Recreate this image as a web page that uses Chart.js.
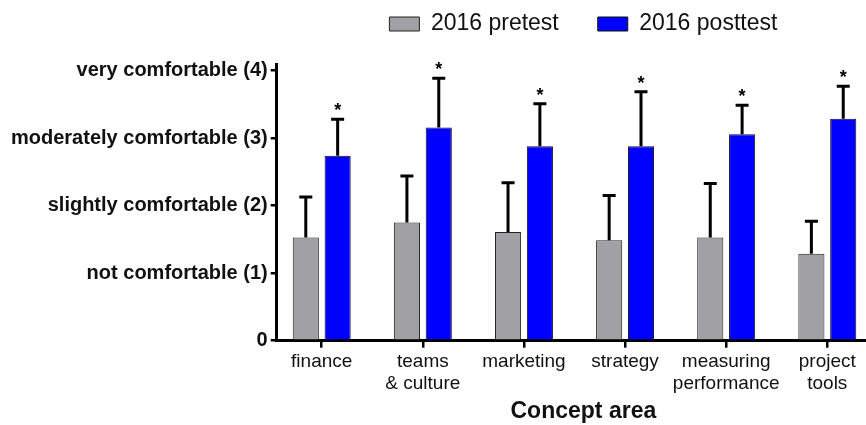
<!DOCTYPE html>
<html>
<head>
<meta charset="utf-8">
<script src="https://cdn.jsdelivr.net/npm/chart.js"></script>
<style>
  body { margin: 0; background: #fff; overflow: hidden; }
  /* the figure is cut off on the right, so the canvas is a bit wider than the window */
  #clip { width: 866px; height: 425px; overflow: hidden; }
  #wrap { width: 890px; height: 425px; }
</style>
</head>
<body>
<div id="clip"><div id="wrap"><canvas id="canvas_bar"></canvas></div></div>
<script>
// concept areas (x axis)
const categories = [['finance'], ['teams', '& culture'], ['marketing'], ['strategy'], ['measuring', 'performance'], ['project', 'tools']]
// y axis tick texts, index = value
const yLabels = ['0', 'not comfortable (1)', 'slightly comfortable (2)', 'moderately comfortable (3)', 'very comfortable (4)']

const seriesNames = ['2016 pretest', '2016 posttest']
const pretest = [1.53, 1.75, 1.61, 1.49, 1.53, 1.29]
const pretest_sd = [0.60, 0.69, 0.73, 0.66, 0.80, 0.48]
const posttest = [2.74, 3.16, 2.88, 2.88, 3.06, 3.29]
const posttest_sd = [0.54, 0.73, 0.63, 0.81, 0.43, 0.48]
const posttest_sig = [true, true, true, true, true, true]

Chart.defaults.font.family = "'Liberation Sans', Arial, sans-serif"
Chart.defaults.color = '#111'

// upper error bars + significance stars, positioned through the y scale
const errorBars = {
  id: 'errorBars',
  afterDatasetsDraw(chart) {
    const ctx = chart.ctx
    const yScale = chart.scales.y
    chart.data.datasets.forEach((ds, di) => {
      const meta = chart.getDatasetMeta(di)
      meta.data.forEach((bar, i) => {
        const top = yScale.getPixelForValue(ds.data[i].y + ds.sd[i])
        ctx.save()
        ctx.strokeStyle = '#000'
        ctx.lineWidth = 3
        ctx.beginPath()
        ctx.moveTo(bar.x, bar.y)
        ctx.lineTo(bar.x, top)
        ctx.moveTo(bar.x - 6.5, top)
        ctx.lineTo(bar.x + 6.5, top)
        ctx.stroke()
        if (ds.sig && ds.sig[i]) {
          ctx.fillStyle = '#000'
          ctx.font = "bold 18px 'Liberation Sans', Arial, sans-serif"
          ctx.textAlign = 'center'
          ctx.textBaseline = 'alphabetic'
          ctx.fillText('*', bar.x, top - 3)
        }
        ctx.restore()
      })
    })
  }
}

// more room between the legend and the plot
const legendGap = {
  id: 'legendGap',
  beforeInit(chart) {
    const fitValue = chart.legend.fit
    chart.legend.fit = function fit() {
      fitValue.bind(chart.legend)()
      this.height += 18.5
    }
  }
}

const ctx1 = document.getElementById('canvas_bar')

new Chart(ctx1, {
  type: 'bar',
  data: {
    datasets: [{
      label: seriesNames[0],
      data: pretest.map((v, i) => ({x: i, y: v})),
      sd: pretest_sd,
      backgroundColor: '#a1a1a5',
      borderColor: '#222',
      borderWidth: 1
    }, {
      label: seriesNames[1],
      data: posttest.map((v, i) => ({x: i, y: v})),
      sd: posttest_sd,
      sig: posttest_sig,
      backgroundColor: '#0000ff',
      borderColor: '#111',
      borderWidth: 1
    }]
  },
  options: {
    responsive: true,
    maintainAspectRatio: false,
    animation: false,
    categoryPercentage: 0.63,
    barPercentage: 0.82,
    layout: { padding: { top: -26.5, left: 8, right: 0, bottom: 0 } },
    plugins: {
      tooltip: { enabled: false },
      legend: {
        position: 'top',
        fullSize: false,
        labels: {
          font: { size: 23 },
          color: '#111',
          boxWidth: 30,
          boxHeight: 14,
          padding: 39
        }
      }
    },
    scales: {
      x: {
        type: 'linear',
        offset: false,
        min: -0.445,
        max: 5.62,
        afterBuildTicks: (scale) => { scale.ticks = categories.map((c, i) => ({value: i})) },
        ticks: {
          callback: (v) => categories[v],
          font: { size: 19, lineHeight: 1.15 },
          color: '#111',
          padding: 3,
          maxRotation: 0,
          autoSkip: false
        },
        grid: { offset: false, drawOnChartArea: false, drawTicks: true, tickLength: 7, color: '#000', lineWidth: 2.5 },
        border: { color: '#000', width: 3 },
        title: {
          display: true,
          text: 'Concept area',
          font: { size: 23, weight: 'bold' },
          color: '#111',
          padding: { top: 0, bottom: 0 }
        }
      },
      y: {
        min: 0,
        max: 4.1,
        afterBuildTicks: (scale) => { scale.ticks = yLabels.map((t, i) => ({value: i})) },
        ticks: {
          callback: (v) => yLabels[v],
          font: { size: 20, weight: 'bold' },
          color: '#111',
          padding: 3
        },
        grid: { drawOnChartArea: false, drawTicks: true, tickLength: 6, color: '#000', lineWidth: 2.5 },
        border: { color: '#000', width: 3 }
      }
    }
  },
  plugins: [errorBars, legendGap]
})
</script>
</body>
</html>
